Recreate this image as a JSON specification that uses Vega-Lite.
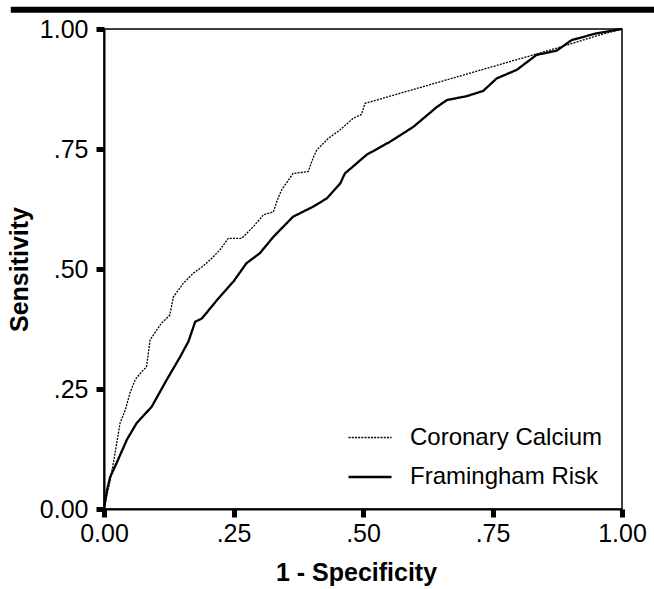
{
  "$schema": "https://vega.github.io/schema/vega-lite/v6.json",
  "width": 518,
  "height": 480,
  "autosize": "none",
  "padding": {"left": 104, "top": 29, "right": 32, "bottom": 80},
  "background": "white",
  "config": {
    "font": "Liberation Sans",
    "view": {"stroke": "black", "strokeWidth": 1.5},
    "axis": {"grid": false, "ticks": true, "tickSize": 8, "tickWidth": 5, "tickColor": "black", "domainColor": "black", "domainWidth": 2, "labelColor": "black", "titleColor": "black", "labelFont": "Liberation Sans", "titleFont": "Liberation Sans", "labelFontSize": 25, "titleFontSize": 25, "titleFontWeight": "bold", "labelPadding": 8, "labelFlush": false}
  },
  "datasets": {
    "roc": [
      {"series": "Coronary Calcium", "fpr": 0, "tpr": 0},
      {"series": "Coronary Calcium", "fpr": 0.005, "tpr": 0.026},
      {"series": "Coronary Calcium", "fpr": 0.012, "tpr": 0.06},
      {"series": "Coronary Calcium", "fpr": 0.018, "tpr": 0.095},
      {"series": "Coronary Calcium", "fpr": 0.025, "tpr": 0.14},
      {"series": "Coronary Calcium", "fpr": 0.031, "tpr": 0.179},
      {"series": "Coronary Calcium", "fpr": 0.041, "tpr": 0.206},
      {"series": "Coronary Calcium", "fpr": 0.05, "tpr": 0.241},
      {"series": "Coronary Calcium", "fpr": 0.06, "tpr": 0.269},
      {"series": "Coronary Calcium", "fpr": 0.072, "tpr": 0.285},
      {"series": "Coronary Calcium", "fpr": 0.082, "tpr": 0.296},
      {"series": "Coronary Calcium", "fpr": 0.089, "tpr": 0.352},
      {"series": "Coronary Calcium", "fpr": 0.1, "tpr": 0.37},
      {"series": "Coronary Calcium", "fpr": 0.111, "tpr": 0.387},
      {"series": "Coronary Calcium", "fpr": 0.127, "tpr": 0.404},
      {"series": "Coronary Calcium", "fpr": 0.134, "tpr": 0.442},
      {"series": "Coronary Calcium", "fpr": 0.143, "tpr": 0.455},
      {"series": "Coronary Calcium", "fpr": 0.153, "tpr": 0.47},
      {"series": "Coronary Calcium", "fpr": 0.172, "tpr": 0.491},
      {"series": "Coronary Calcium", "fpr": 0.19, "tpr": 0.505},
      {"series": "Coronary Calcium", "fpr": 0.205, "tpr": 0.519},
      {"series": "Coronary Calcium", "fpr": 0.224, "tpr": 0.54},
      {"series": "Coronary Calcium", "fpr": 0.24, "tpr": 0.564},
      {"series": "Coronary Calcium", "fpr": 0.266, "tpr": 0.564},
      {"series": "Coronary Calcium", "fpr": 0.288, "tpr": 0.588},
      {"series": "Coronary Calcium", "fpr": 0.308, "tpr": 0.613},
      {"series": "Coronary Calcium", "fpr": 0.327, "tpr": 0.619},
      {"series": "Coronary Calcium", "fpr": 0.335, "tpr": 0.645},
      {"series": "Coronary Calcium", "fpr": 0.343, "tpr": 0.665},
      {"series": "Coronary Calcium", "fpr": 0.365, "tpr": 0.699},
      {"series": "Coronary Calcium", "fpr": 0.394, "tpr": 0.703},
      {"series": "Coronary Calcium", "fpr": 0.405, "tpr": 0.735},
      {"series": "Coronary Calcium", "fpr": 0.411, "tpr": 0.748},
      {"series": "Coronary Calcium", "fpr": 0.433, "tpr": 0.772},
      {"series": "Coronary Calcium", "fpr": 0.456, "tpr": 0.79},
      {"series": "Coronary Calcium", "fpr": 0.481, "tpr": 0.814},
      {"series": "Coronary Calcium", "fpr": 0.497, "tpr": 0.822},
      {"series": "Coronary Calcium", "fpr": 0.504, "tpr": 0.845},
      {"series": "Coronary Calcium", "fpr": 0.835, "tpr": 0.948},
      {"series": "Coronary Calcium", "fpr": 0.88, "tpr": 0.962},
      {"series": "Coronary Calcium", "fpr": 0.958, "tpr": 0.988},
      {"series": "Coronary Calcium", "fpr": 1, "tpr": 1},
      {"series": "Framingham Risk", "fpr": 0, "tpr": 0},
      {"series": "Framingham Risk", "fpr": 0.006, "tpr": 0.04},
      {"series": "Framingham Risk", "fpr": 0.012, "tpr": 0.067},
      {"series": "Framingham Risk", "fpr": 0.024, "tpr": 0.095},
      {"series": "Framingham Risk", "fpr": 0.044, "tpr": 0.144},
      {"series": "Framingham Risk", "fpr": 0.063, "tpr": 0.179},
      {"series": "Framingham Risk", "fpr": 0.092, "tpr": 0.213},
      {"series": "Framingham Risk", "fpr": 0.121, "tpr": 0.269},
      {"series": "Framingham Risk", "fpr": 0.147, "tpr": 0.317},
      {"series": "Framingham Risk", "fpr": 0.163, "tpr": 0.349},
      {"series": "Framingham Risk", "fpr": 0.176, "tpr": 0.39},
      {"series": "Framingham Risk", "fpr": 0.189, "tpr": 0.397},
      {"series": "Framingham Risk", "fpr": 0.218, "tpr": 0.435},
      {"series": "Framingham Risk", "fpr": 0.25, "tpr": 0.474},
      {"series": "Framingham Risk", "fpr": 0.275, "tpr": 0.512},
      {"series": "Framingham Risk", "fpr": 0.301, "tpr": 0.533},
      {"series": "Framingham Risk", "fpr": 0.327, "tpr": 0.567},
      {"series": "Framingham Risk", "fpr": 0.365, "tpr": 0.609},
      {"series": "Framingham Risk", "fpr": 0.404, "tpr": 0.63},
      {"series": "Framingham Risk", "fpr": 0.43, "tpr": 0.647},
      {"series": "Framingham Risk", "fpr": 0.456, "tpr": 0.678},
      {"series": "Framingham Risk", "fpr": 0.465, "tpr": 0.699},
      {"series": "Framingham Risk", "fpr": 0.507, "tpr": 0.738},
      {"series": "Framingham Risk", "fpr": 0.552, "tpr": 0.765},
      {"series": "Framingham Risk", "fpr": 0.597, "tpr": 0.796},
      {"series": "Framingham Risk", "fpr": 0.642, "tpr": 0.837},
      {"series": "Framingham Risk", "fpr": 0.662, "tpr": 0.852},
      {"series": "Framingham Risk", "fpr": 0.7, "tpr": 0.86},
      {"series": "Framingham Risk", "fpr": 0.732, "tpr": 0.871},
      {"series": "Framingham Risk", "fpr": 0.758, "tpr": 0.897},
      {"series": "Framingham Risk", "fpr": 0.797, "tpr": 0.915},
      {"series": "Framingham Risk", "fpr": 0.835, "tpr": 0.946},
      {"series": "Framingham Risk", "fpr": 0.874, "tpr": 0.955},
      {"series": "Framingham Risk", "fpr": 0.903, "tpr": 0.977},
      {"series": "Framingham Risk", "fpr": 0.951, "tpr": 0.991},
      {"series": "Framingham Risk", "fpr": 1, "tpr": 1}
    ]
  },
  "layer": [
    {
      "data": {"name": "roc"},
      "mark": {"type": "line", "color": "black", "interpolate": "linear"},
      "encoding": {
        "x": {
          "field": "fpr", "type": "quantitative",
          "scale": {"domain": [0, 1], "nice": false, "zero": false},
          "axis": {
            "title": "1 - Specificity",
            "values": [0, 0.25, 0.5, 0.75, 1],
            "labelExpr": "datum.value > 0 && datum.value < 1 ? substring(format(datum.value, '.2f'), 1) : format(datum.value, '.2f')",
            "ticks": true, "tickSize": 8, "tickWidth": 5, "tickColor": "black", "tickOpacity": 1,
            "labelPadding": 4,
            "titlePadding": 14,
            "titleX": 252
          }
        },
        "y": {
          "field": "tpr", "type": "quantitative",
          "scale": {"domain": [0, 1], "nice": false, "zero": false},
          "axis": {
            "title": "Sensitivity",
            "values": [0, 0.25, 0.5, 0.75, 1],
            "labelExpr": "datum.value > 0 && datum.value < 1 ? substring(format(datum.value, '.2f'), 1) : format(datum.value, '.2f')",
            "ticks": true, "tickSize": 8, "tickWidth": 5, "tickColor": "black", "tickOpacity": 1,
            "titlePadding": 7
          }
        },
        "strokeDash": {
          "field": "series", "type": "nominal",
          "scale": {"domain": ["Coronary Calcium", "Framingham Risk"], "range": [[2, 1.2], [1, 0]]},
          "legend": {
            "title": null, "orient": "none", "legendX": 243, "legendY": 386,
            "symbolType": "stroke", "symbolSize": 1849, "symbolStrokeColor": "black",
            "labelFontSize": 24, "labelFont": "Liberation Sans", "labelColor": "black", "labelLimit": 400,
            "labelOffset": 17, "rowPadding": 4, "padding": 0, "symbolOffset": 0
          }
        },
        "strokeWidth": {
          "field": "series", "type": "nominal",
          "scale": {"domain": ["Coronary Calcium", "Framingham Risk"], "range": [1.3, 2.3]},
          "legend": null
        }
      }
    },
    {
      "data": {"values": [{}]},
      "mark": {"type": "rule", "color": "black", "strokeWidth": 6, "clip": false},
      "encoding": {
        "x": {"datum": -0.18, "type": "quantitative",
          "axis": {
            "title": "1 - Specificity",
            "values": [0, 0.25, 0.5, 0.75, 1],
            "labelExpr": "datum.value > 0 && datum.value < 1 ? substring(format(datum.value, '.2f'), 1) : format(datum.value, '.2f')",
            "ticks": true, "tickSize": 8, "tickWidth": 5, "tickColor": "black", "tickOpacity": 1,
            "labelPadding": 4,
            "titlePadding": 14,
            "titleX": 252
          }
        },
        "x2": {"datum": 1.062},
        "y": {"datum": 1.04, "type": "quantitative",
          "axis": {
            "title": "Sensitivity",
            "values": [0, 0.25, 0.5, 0.75, 1],
            "labelExpr": "datum.value > 0 && datum.value < 1 ? substring(format(datum.value, '.2f'), 1) : format(datum.value, '.2f')",
            "ticks": true, "tickSize": 8, "tickWidth": 5, "tickColor": "black", "tickOpacity": 1,
            "titlePadding": 7
          }
        }
      }
    }
  ]
}
